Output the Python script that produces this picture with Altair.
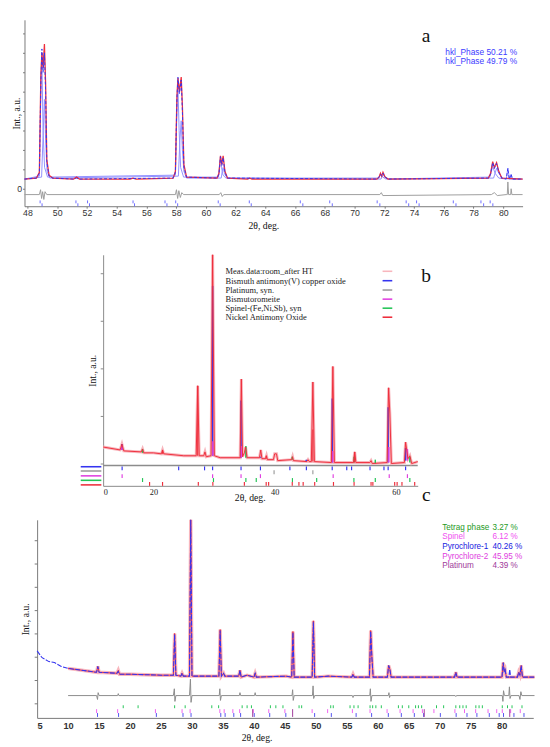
import altair as alt
import pandas as pd

SERIF = "Liberation Serif"
SANS = "Liberation Sans"

# ======================= Panel a data =======================
A_OBS_X = [47.8, 48.6, 48.8, 48.9, 48.97, 49.05, 49.14, 49.22, 49.3, 49.45, 49.7, 51.1, 51.3, 51.5,
           54.9, 55.1, 55.3, 57.8, 57.95, 58.05, 58.12, 58.22, 58.34, 58.42, 58.52, 58.7, 60.75,
           60.88, 60.98, 61.07, 61.16, 61.28, 61.45, 62.8, 62.95, 63.1, 71.5, 71.65, 71.74, 71.82,
           71.91, 72.05, 72.25, 79.0, 79.15, 79.29, 79.4, 79.55, 79.7, 79.9, 81.3]
A_OBS_Y = [10, 11, 17, 118, 140, 124, 149, 108, 30, 14, 11, 10, 12, 10,
           10, 11, 10, 11, 18, 95, 114, 100, 115, 85, 25, 12, 11,
           16, 34, 25, 34, 18, 11, 10, 11, 10, 10, 12, 16, 13,
           17, 12, 10, 11, 16, 28, 22, 27, 18, 11, 10]
A_CALC_X = [47.8, 48.6, 48.8, 48.9, 48.97, 49.05, 49.14, 49.22, 49.3, 49.45, 49.7, 51.1, 51.3, 51.5,
            57.8, 57.95, 58.05, 58.12, 58.22, 58.34, 58.42, 58.52, 58.7, 60.75, 60.88, 60.98, 61.07,
            61.16, 61.28, 61.45, 71.5, 71.65, 71.74, 71.82, 71.91, 72.05, 72.25, 79.0, 79.15, 79.29,
            79.4, 79.55, 79.7, 79.9, 80.2, 80.31, 80.4, 80.53, 80.62, 81.3]
A_CALC_Y = [10, 11, 16, 110, 144, 120, 140, 100, 28, 13, 11, 10, 11, 10,
            11, 17, 92, 115, 98, 112, 80, 22, 12, 11, 15, 33, 24,
            32, 17, 11, 10, 12, 15, 13, 16, 12, 10, 11, 15, 27,
            21, 26, 17, 11, 10, 21, 10, 15, 10, 10]
A_PH1_X = [47.8, 48.8, 48.9, 48.97, 49.05, 49.15, 49.35, 57.95, 58.05, 58.12, 58.2, 58.3, 58.5,
           60.85, 60.93, 60.98, 61.05, 61.15, 61.35, 71.6, 71.74, 71.9, 72.1, 79.1, 79.29, 79.45,
           79.7, 80.2, 80.31, 80.42, 81.3]
A_PH1_Y = [10, 13, 100, 132, 60, 22, 12, 14, 80, 105, 60, 22, 12,
           12, 26, 33, 22, 14, 11, 11, 15, 12, 10, 12, 23, 16,
           11, 10, 21, 10, 10]
A_PH2_X = [47.8, 48.95, 49.05, 49.14, 49.22, 49.32, 49.5, 58.15, 58.25, 58.34, 58.42, 58.52, 58.7,
           61.03, 61.1, 61.16, 61.23, 61.33, 61.5, 71.78, 71.91, 72.05, 72.3, 79.35, 79.55, 79.7,
           79.95, 80.45, 80.53, 80.6, 81.3]
A_PH2_Y = [10, 12, 55, 92, 50, 18, 11, 13, 50, 70, 40, 18, 11,
           11, 18, 22, 17, 13, 11, 10, 14, 12, 10, 11, 21, 16,
           11, 10, 15, 10, 10]
A_DIFF_X = [47.8, 48.8, 48.88, 48.95, 49.02, 49.1, 49.18, 49.3, 57.95, 58.02, 58.1, 58.18, 58.28,
            58.38, 58.5, 60.9, 61.0, 61.1, 61.2, 71.7, 71.8, 71.9, 79.2, 79.4, 79.6, 80.2, 80.27,
            80.31, 80.36, 80.45, 80.5, 80.53, 80.58, 81.3]
A_DIFF_Y = [-6, -6, -1, -10, -3, -11, -3, -6, -6, -1, -10, -2, -9,
            -4, -6, -6, -4, -8, -6, -6, -4, -7, -6, -4, -7, -6, -6,
            7, -6, -6, -6, 0, -6, -6]
A_TICK1 = [48.85, 51.26, 52.04, 55.1, 57.25, 57.97, 60.83, 62.92, 66.35, 68.33, 71.52, 73.47,
           74.17, 76.64, 78.5, 79.12]
A_TICK2 = [48.98, 51.39, 52.17, 55.2, 57.38, 58.1, 60.96, 63.05, 66.52, 68.5, 71.7, 73.64,
           74.34, 76.82, 78.68, 79.3]
A_X_TICKS = list(range(48, 81, 2))
A_Y_TICKS = [0, 20, 40, 60, 80, 100, 120, 140, 160]
A_LEGEND = ["hkl_Phase 50.21 %", "hkl_Phase 49.79 %"]

# ======================= Panel b data =======================
B_OBS_X = [11.7, 14.5, 14.8, 15.1, 18.0, 18.2, 18.4, 20.0, 21.3, 21.5, 21.7, 25.0, 27.05, 27.3,
           27.55, 28.3, 28.5, 28.7, 29.5, 29.76, 30.05, 31.0, 34.3, 34.5, 34.7, 35.0, 35.2, 35.45,
           37.5, 37.7, 37.9, 38.5, 38.65, 38.8, 39.8, 40.0, 40.3, 40.5, 42.8, 42.95, 43.1, 45.3,
           45.5, 45.7, 46.05, 46.3, 46.55, 49.35, 49.6, 49.85, 53.0, 53.2, 53.4, 55.7, 55.9, 56.1,
           58.55, 58.8, 59.0, 59.25, 61.4, 61.6, 61.8, 62.0, 62.3, 62.6, 63.6]
B_OBS_Y = [40, 37, 43, 36, 35, 38, 34, 34, 33, 37, 33, 31, 31, 103,
           31, 31, 35, 30, 31, 238, 31, 29, 29, 110, 30, 34, 40, 29,
           29, 37, 28, 28, 31, 27, 27, 33, 33, 26, 27, 30, 26, 25,
           27, 25, 25, 107, 25, 24, 123, 24, 24, 35, 24, 24, 26, 23,
           24, 101, 75, 23, 24, 45, 36, 28, 31, 23, 25]
B_BLUE_X = [14.8, 28.4, 29.76, 34.45, 37.65, 42.5, 45.2, 49.5, 58.72, 61.6]
B_BLUE_TOP = [43, 31, 206, 88, 30, 27, 27, 90, 81, 39]
B_BLUE_BASE = [37, 31, 31, 29, 29, 27, 25, 24, 24, 26]
B_MAG_X = [14.8, 29.8, 34.5, 49.6, 58.85, 61.9]
B_MAG_TOP = [41, 46, 41, 36, 40, 38]
B_MAG_BASE = [37, 31, 29, 24, 24, 26]
B_GRN_X = [18.2, 35.25, 42.9, 53.1, 56.6, 62.3]
B_GRN_TOP = [38, 41, 30, 30, 27, 30]
B_GRN_BASE = [34, 29, 27, 24, 23, 24]
B_RED_X = [21.5, 27.3, 38.6, 46.3, 53.2]
B_RED_TOP = [37, 103, 31, 58, 35]
B_RED_BASE = [33, 31, 28, 25, 24]
B_TICK_BLUE = [14.83, 24.16, 28.43, 29.76, 34.45, 37.65, 42.51, 45.23, 49.49, 51.89, 52.69,
               55.73, 58.03, 58.72, 61.6]
B_TICK_GRAY = [39.9, 46.3]
B_TICK_PINK = [14.83, 29.76, 34.45, 37.65, 49.65, 58.9, 61.9]
B_TICK_GREEN = [18.2, 29.9, 35.25, 36.96, 42.93, 46.93, 53.07, 56.6, 62.3]
B_TICK_RED = [19.36, 21.5, 27.4, 29.8, 35.0, 38.6, 39.0, 42.9, 44.0, 44.7, 46.6, 49.7, 53.1,
              55.9, 56.2, 59.8, 60.2, 61.0, 63.1]
B_X_TICKS = [11.7, 20, 40, 60]
B_Y_TICKS = [23, 72, 121, 170, 219]
B_LEGEND = ["Meas.data:room_after HT", "Bismuth antimony(V) copper oxide", "Platinum, syn.",
            "Bismutoromeite", "Spinel-(Fe,Ni,Sb), syn", "Nickel Antimony Oxide"]

# ======================= Panel c data =======================
C_CALC_X = [5.0, 5.8, 6.9, 7.8, 8.9, 10, 14.6, 14.8, 15.0, 17.9, 18.1, 18.3, 20, 25, 27.0, 27.2,
            27.4, 28.2, 28.4, 28.6, 29.6, 29.8, 30.0, 34.35, 34.55, 34.75, 35.1, 35.3, 37.55,
            37.75, 37.95, 38.9, 40.0, 40.2, 40.4, 45.2, 46.1, 46.3, 46.5, 49.4, 49.6, 49.8, 52.0,
            55.8, 56.0, 56.2, 58.65, 58.85, 59.05, 59.25, 61.55, 61.75, 61.95, 62.15, 72.4, 72.6,
            72.8, 80.05, 80.25, 80.4, 80.55, 80.75, 81.15, 81.3, 81.45, 82.55, 82.75, 82.95, 83.15,
            83.35, 85.3]
C_CALC_Y = [69, 62, 58, 57, 53, 51, 47, 53, 47, 46, 48, 45, 45, 44, 44, 86,
            44, 43, 46, 43, 43, 204, 43, 43, 90, 43, 46, 43, 43,
            49, 42, 44, 42, 46, 42, 43, 42, 88, 42, 42, 99, 42, 43,
            42, 45, 42, 42, 89, 62, 42, 42, 54, 50, 42, 42, 47,
            42, 42, 57, 48, 50, 42, 42, 50, 42, 42, 47, 44, 54,
            42, 42]
C_OBS_X = [10, 14.6, 14.8, 15.0, 17.9, 18.1, 18.3, 20, 25, 27.0, 27.2, 27.4, 28.2, 28.4, 28.6,
           29.6, 29.8, 30.0, 34.35, 34.55, 34.75, 35.1, 35.3, 37.55, 37.75, 37.95, 38.9, 40.0,
           40.2, 40.4, 45.2, 46.1, 46.3, 46.5, 49.4, 49.6, 49.8, 52.0, 55.8, 56.0, 56.2, 58.65,
           58.85, 59.05, 59.25, 61.55, 61.75, 61.95, 62.15, 72.4, 72.6, 72.8, 80.05, 80.25, 80.4,
           80.55, 80.75, 82.55, 82.75, 82.95, 83.15, 83.35, 85.3]
C_OBS_Y = [51, 47, 53, 47, 46, 49, 45, 45, 44, 44, 87, 44, 43, 46, 43,
           43, 204, 43, 43, 91, 43, 46, 43, 43, 49, 42, 44, 42,
           46, 42, 43, 42, 89, 42, 42, 100, 42, 43, 42, 45, 42, 42,
           90, 62, 42, 42, 54, 50, 42, 42, 47, 42, 42, 57, 48,
           50, 42, 42, 47, 44, 54, 42, 42]
C_DIFF_X = [10, 14.6, 14.75, 14.85, 15.0, 18.0, 18.1, 18.2, 27.0, 27.15, 27.25, 27.4, 29.6, 29.75,
            29.85, 30.0, 34.4, 34.5, 34.6, 34.75, 37.65, 37.75, 37.85, 40.1, 40.2, 40.3, 46.15,
            46.25, 46.35, 46.5, 49.45, 49.55, 49.65, 49.8, 55.9, 56.0, 56.1, 58.7, 58.8, 58.9,
            59.05, 61.7, 61.8, 61.9, 62.0, 72.5, 72.6, 72.7, 80.1, 80.2, 80.3, 80.45, 81.15,
            81.25, 81.35, 81.5, 82.8, 82.95, 83.1, 83.25, 85.3]
C_DIFF_Y = [23, 23, 19, 26, 23, 23, 25, 23, 23, 30, 17, 23, 23, 40,
            16, 23, 23, 30, 18, 23, 23, 26, 23, 23, 26, 23, 23,
            29, 18, 23, 23, 33, 20, 23, 23, 21, 23, 23, 30, 17,
            23, 23, 26, 21, 23, 23, 22, 23, 23, 17, 28, 23, 23,
            32, 20, 23, 23, 19, 27, 23, 23]
C_TICK_GREEN = [18.9, 21.3, 27.2, 28.9, 33.2, 34.3, 38.1, 38.9, 39.6, 42.66, 43.54, 44.69, 47.29,
                47.71, 52.4, 52.81, 55.52, 56.15, 56.82, 58.75, 59.17, 59.69, 60.57, 63.33, 63.96,
                65.0, 66.1, 66.56, 67.08, 69.48, 70.63, 72.6, 73.23, 73.75, 74.27, 75.83, 76.35,
                76.88, 80.1, 80.94, 81.67, 83.28]
C_TICK_PYR2 = [14.6, 18.0, 24.1, 28.4, 29.7, 34.5, 35.2, 36.6, 37.7, 39.9, 42.4, 45.0, 49.4,
               51.9, 55.9, 58.75, 61.5, 63.6, 65.7, 67.2, 69.06, 72.45, 74.0, 75.8, 77.8, 79.2,
               80.1, 81.45, 83.0]
C_TICK_PYR1 = [14.75, 18.15, 24.25, 28.55, 29.85, 34.65, 35.35, 36.75, 37.85, 40.05, 42.55,
               45.15, 49.8, 52.5, 56.5, 59.0, 61.7, 63.8, 65.9, 67.4, 70.1, 72.65, 74.4, 76.0,
               78.0, 79.6, 80.3, 81.98, 83.6]
C_TICK_PT = [39.8, 46.25, 67.5, 81.3]
C_X_TICKS = list(range(5, 81, 5))
C_Y_TICKS = [15, 39, 63, 87, 111, 135, 159, 183]
C_PHASES = ["Tetrag phase", "Spinel", "Pyrochlore-1", "Pyrochlore-2", "Platinum"]
C_PERCENTS = ["3.27 %", "6.12 %", "40.26 %", "45.95 %", "4.39 %"]

# ======================= styles =======================
RED = "#ee2e3c"
BLUE = "#3434f0"
LIGHTBLUE = "#9090ff"
GRAY = "#9c9c9c"
PINK = "#f8b6bd"
MAGENTA = "#e040e0"
GREEN = "#22c455"


def xy(xs, ys):
    return pd.DataFrame({"x": xs, "y": ys})


def rules(xs, y0, y1):
    return pd.DataFrame({"x": xs, "y": [y0] * len(xs), "y2": [y1] * len(xs)})


def sticks(xs, base, top):
    return pd.DataFrame({"x": xs, "y": base, "y2": top})


def spacer(w):
    return (alt.Chart(pd.DataFrame({"s": [0.5]}))
            .mark_point(opacity=0, size=1)
            .encode(x=alt.X("s:Q", axis=None, scale=alt.Scale(domain=[0, 1])),
                    y=alt.Y("s:Q", axis=None, scale=alt.Scale(domain=[0, 1])))
            .properties(width=w, height=2))


# ======================= Panel a =======================
xA = alt.X("x:Q", scale=alt.Scale(domain=[47.8, 81.3], nice=False, zero=False),
           axis=alt.Axis(values=A_X_TICKS, title="2θ, deg.", grid=False,
                         labelFont=SANS, labelFontSize=9, labelColor="#333",
                         tickSize=2, tickColor="#777", domainColor="#777", labelPadding=1,
                         titleFont=SERIF, titleFontSize=10, titleFontWeight="normal",
                         titlePadding=3, titleColor="#111", titleX=246))
yA = alt.Y("y:Q", scale=alt.Scale(domain=[-18, 174], nice=False, zero=False),
           axis=alt.Axis(values=A_Y_TICKS, labelExpr="datum.value == 0 ? '0' : ''",
                         title="Int., a.u.", grid=False, labelFont=SANS, labelFontSize=9,
                         labelColor="#333", tickSize=2, tickColor="#777", domainColor="#777",
                         labelPadding=1, titleFont=SERIF, titleFontSize=10,
                         titleFontWeight="normal", titlePadding=-5, titleColor="#111"))
y2 = alt.Y2("y2:Q")

a_layers = [
    alt.Chart(xy(A_PH1_X, A_PH1_Y)).mark_line(color=LIGHTBLUE, strokeWidth=1).encode(xA, yA),
    alt.Chart(xy(A_PH2_X, A_PH2_Y)).mark_line(color=LIGHTBLUE, strokeWidth=1).encode(xA, yA),
    alt.Chart(xy(A_OBS_X, A_OBS_Y)).mark_line(color=RED, strokeWidth=1.3).encode(xA, yA),
    alt.Chart(xy(A_CALC_X, A_CALC_Y)).mark_line(color=BLUE, strokeWidth=1,
                                                  strokeDash=[3, 2]).encode(xA, yA),
    alt.Chart(xy(A_DIFF_X, A_DIFF_Y)).mark_line(color=GRAY, strokeWidth=1).encode(xA, yA),
    alt.Chart(rules(A_TICK1, -12, -15)).mark_rule(color="#6a6aff").encode(xA, yA, y2),
    alt.Chart(rules(A_TICK2, -15, -18)).mark_rule(color="#6a6aff").encode(xA, yA, y2),
    alt.Chart(pd.DataFrame({"x": [74.8], "y": [157], "t": ["a"]}))
    .mark_text(font=SERIF, fontSize=20, color="#111").encode(xA, yA, text="t:N"),
    alt.Chart(pd.DataFrame({"x": [76.1, 76.1], "y": [141, 131], "t": A_LEGEND}))
    .mark_text(font=SANS, fontSize=8.6, color="#3c3cff", align="left").encode(xA, yA, text="t:N"),
]
panel_a = alt.layer(*a_layers).properties(width=513, height=192)

# ======================= Panel b =======================
xB = alt.X("x:Q", scale=alt.Scale(domain=[11.7, 63.6], nice=False, zero=False),
           axis=alt.Axis(values=B_X_TICKS,
                         labelExpr="datum.value < 15 ? '0' : datum.label",
                         title="2θ, deg.", grid=False, ticks=False, labelPadding=2,
                         labelFont=SERIF, labelFontSize=8.5, labelColor="#222",
                         domainColor="#888", titleFont=SERIF, titleFontSize=10,
                         titleFontWeight="normal", titlePadding=-3, titleColor="#111",
                         titleX=151))
yB = alt.Y("y:Q", scale=alt.Scale(domain=[0, 238], nice=False, zero=False),
           axis=alt.Axis(values=B_Y_TICKS, labels=False, title="Int., a.u.", grid=False,
                         tickSize=3, tickColor="#888", domainColor="#888",
                         titleFont=SERIF, titleFontSize=10, titleFontWeight="normal",
                         titlePadding=2, titleColor="#111"))

B_ROWS = [221, 211.3, 201.7, 192.3, 183, 173.7]
b_leg_df = pd.DataFrame({"x": [31.9] * 6, "y": B_ROWS, "t": B_LEGEND})
b_leg_line = pd.DataFrame({
    "x": [57.8] * 6, "x2": [59.4] * 6, "y": B_ROWS,
    "c": [PINK, BLUE, GRAY, MAGENTA, GREEN, RED],
})
b_side_line = pd.DataFrame({
    "x": [8.0] * 5, "x2": [11.4] * 5,
    "y": [19.7, 15.3, 10.3, 5.7, 1.0],
    "c": [BLUE, GRAY, MAGENTA, GREEN, RED],
})
b_layers = [
    alt.Chart(pd.DataFrame({"y": [21]})).mark_rule(color="#8c8c8c", strokeWidth=1.6).encode(yB),
    alt.Chart(xy(B_OBS_X, B_OBS_Y)).mark_line(color=PINK, strokeWidth=3).encode(xB, yB),
    alt.Chart(sticks(B_BLUE_X, B_BLUE_BASE, B_BLUE_TOP)).mark_rule(color=BLUE, strokeWidth=1.5)
    .encode(xB, yB, y2),
    alt.Chart(sticks(B_MAG_X, B_MAG_BASE, B_MAG_TOP)).mark_rule(color=MAGENTA, strokeWidth=1.5)
    .encode(xB, yB, y2),
    alt.Chart(sticks(B_GRN_X, B_GRN_BASE, B_GRN_TOP)).mark_rule(color=GREEN, strokeWidth=1.5)
    .encode(xB, yB, y2),
    alt.Chart(sticks(B_RED_X, B_RED_BASE, B_RED_TOP)).mark_rule(color=RED, strokeWidth=1.2)
    .encode(xB, yB, y2),
    alt.Chart(xy(B_OBS_X, B_OBS_Y)).mark_line(color=RED, strokeWidth=1).encode(xB, yB),
    alt.Chart(rules(B_TICK_BLUE, 16, 20)).mark_rule(color=BLUE, strokeWidth=1.2).encode(xB, yB, y2),
    alt.Chart(rules(B_TICK_GRAY, 12, 16)).mark_rule(color=GRAY, strokeWidth=1.2).encode(xB, yB, y2),
    alt.Chart(rules(B_TICK_PINK, 8, 12)).mark_rule(color=MAGENTA, strokeWidth=1.2).encode(xB, yB, y2),
    alt.Chart(rules(B_TICK_GREEN, 4, 8)).mark_rule(color=GREEN, strokeWidth=1.2).encode(xB, yB, y2),
    alt.Chart(rules(B_TICK_RED, 0, 4)).mark_rule(color=RED, strokeWidth=1.2).encode(xB, yB, y2),
    alt.Chart(b_side_line).mark_rule(strokeWidth=1.6)
    .encode(xB, alt.X2("x2:Q"), yB, color=alt.Color("c:N", scale=None)),
    alt.Chart(b_leg_line).mark_rule(strokeWidth=1.6)
    .encode(xB, alt.X2("x2:Q"), yB, color=alt.Color("c:N", scale=None)),
    alt.Chart(b_leg_df).mark_text(font=SERIF, fontSize=8.7, color="#222", align="left")
    .encode(xB, yB, text="t:N"),
    alt.Chart(pd.DataFrame({"x": [65.0, 65.0], "y": [216, -10], "t": ["b", "c"]}))
    .mark_text(font=SERIF, fontSize=20, color="#111").encode(xB, yB, text="t:N"),
]
panel_b = alt.layer(*b_layers).properties(width=324, height=238)

# ======================= Panel c =======================
xC = alt.X("x:Q", scale=alt.Scale(domain=[5, 85.1], nice=False, zero=False),
           axis=alt.Axis(values=C_X_TICKS, title="2θ, deg.", grid=False, ticks=False,
                         labelPadding=3, labelFont=SANS, labelFontSize=9.5,
                         labelFontWeight="bold", labelColor="#333", domainColor="#777",
                         titleFont=SERIF, titleFontSize=10, titleFontWeight="normal",
                         titlePadding=3, titleColor="#111", titleX=226))
yC = alt.Y("y:Q", scale=alt.Scale(domain=[0, 204], nice=False, zero=False),
           axis=alt.Axis(values=C_Y_TICKS, labels=False, title="Int., a.u.", grid=False,
                         tickSize=3, tickColor="#777", domainColor="#777",
                         titleFont=SERIF, titleFontSize=10, titleFontWeight="normal",
                         titlePadding=3, titleColor="#111"))

c_colors = ["#1e9a1e", "#f050f0", "#2020e0", "#e040e0", "#a03a9a"]
c_rows = [197, 187, 177, 167, 157]
c_leg_names = pd.DataFrame({"x": [70.4] * 5, "y": c_rows, "t": C_PHASES, "c": c_colors})
c_leg_vals = pd.DataFrame({"x": [78.5] * 5, "y": c_rows, "t": C_PERCENTS, "c": c_colors})
c_layers = [
    alt.Chart(xy(C_OBS_X, C_OBS_Y)).mark_line(color=PINK, strokeWidth=3.5).encode(xC, yC),
    alt.Chart(xy(C_OBS_X, C_OBS_Y)).mark_line(color=RED, strokeWidth=1).encode(xC, yC),
    alt.Chart(xy(C_CALC_X, C_CALC_Y)).mark_line(color=BLUE, strokeWidth=1.1,
                                                  strokeDash=[5, 1.5]).encode(xC, yC),
    alt.Chart(xy(C_DIFF_X, C_DIFF_Y)).mark_line(color="#8a8a8a", strokeWidth=1).encode(xC, yC),
    alt.Chart(rules(C_TICK_GREEN, 10, 13)).mark_rule(color=GREEN).encode(xC, yC, y2),
    alt.Chart(rules(C_TICK_PYR2, 5, 9)).mark_rule(color="#f060f0").encode(xC, yC, y2),
    alt.Chart(rules(C_TICK_PYR1, 1, 5)).mark_rule(color="#5050f0").encode(xC, yC, y2),
    alt.Chart(rules(C_TICK_PT, 1, 9)).mark_rule(color="#a03a9a").encode(xC, yC, y2),
    alt.Chart(c_leg_names).mark_text(font=SANS, fontSize=8.4, align="left")
    .encode(xC, yC, text="t:N", color=alt.Color("c:N", scale=None)),
    alt.Chart(c_leg_vals).mark_text(font=SANS, fontSize=8.4, align="left")
    .encode(xC, yC, text="t:N", color=alt.Color("c:N", scale=None)),
]
panel_c = alt.layer(*c_layers).properties(width=511, height=204)

row_a = alt.hconcat(spacer(1), panel_a, spacing=0)
row_b = alt.hconcat(spacer(71), panel_b, spacing=0)
row_c = alt.hconcat(spacer(11), panel_c, spacing=0)

lower = alt.vconcat(row_b, row_c, spacing=6)
chart = (alt.vconcat(row_a, lower, spacing=17)
         .properties(padding={"left": 0, "top": 0, "right": 0, "bottom": 0},
                     background="white")
         .configure(padding=0)
         .configure_view(stroke="transparent"))

chart.save("out.html", embed_options={"renderer": "svg", "actions": False})
